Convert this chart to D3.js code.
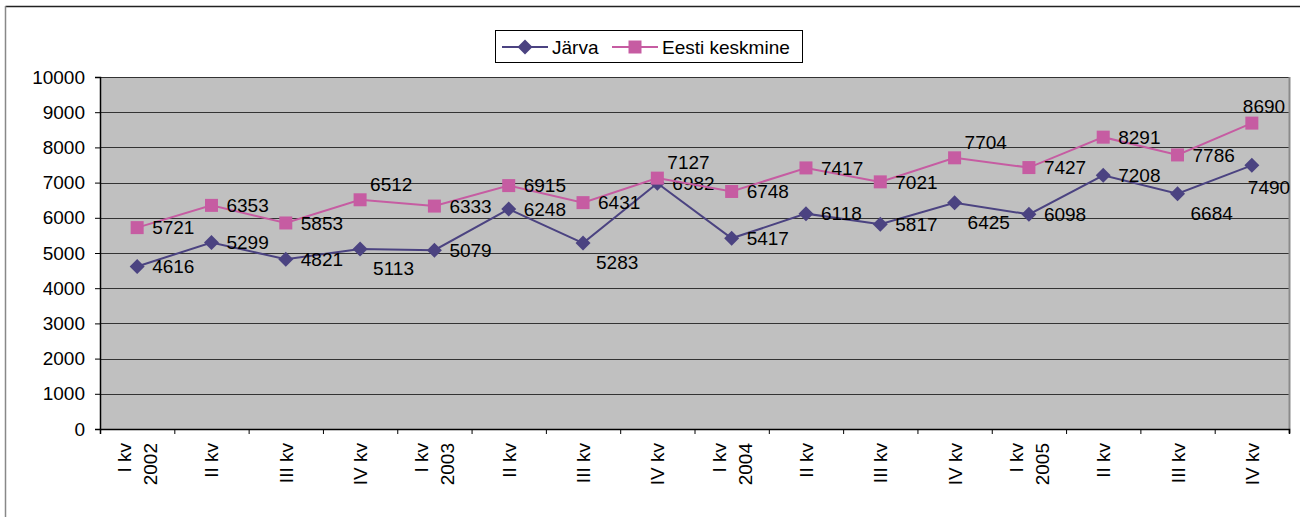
<!DOCTYPE html>
<html>
<head>
<meta charset="utf-8">
<script src="https://cdn.jsdelivr.net/npm/d3@7"></script>
<style>
  body { margin: 0; background: #fff; }
  text { font-family: "Liberation Sans", Arial, sans-serif; fill: #000; }
</style>
</head>
<body>
<div class="chart"></div>
<script>
var svgWidth = 1300;
var svgHeight = 517;

// quarters, each label may have two lines
var categories = [
  ["I kv", "2002"], ["II kv"], ["III kv"], ["IV kv"],
  ["I kv", "2003"], ["II kv"], ["III kv"], ["IV kv"],
  ["I kv", "2004"], ["II kv"], ["III kv"], ["IV kv"],
  ["I kv", "2005"], ["II kv"], ["III kv"], ["IV kv"]
];

var jarva = [4616, 5299, 4821, 5113, 5079, 6248, 5283, 6982, 5417, 6118, 5817, 6425, 6098, 7208, 6684, 7490];
var eesti = [5721, 6353, 5853, 6512, 6333, 6915, 6431, 7127, 6748, 7417, 7021, 7704, 7427, 8291, 7786, 8690];

var yTicks = [0, 1000, 2000, 3000, 4000, 5000, 6000, 7000, 8000, 9000, 10000];

var seriesNames = ["Järva", "Eesti keskmine"];

// where the value labels sit next to the point (r = right, b = below, a = above)
var jarvaLabelPos = ["r","r","r","b","r","r","b","r","r","r","r","b","r","r","b","bl"];
var eestiLabelPos = ["r","r","r","a","r","r","r","a","r","r","r","a","r","r","r","al"];

var labelOffset = {
  r:  [15, 0],
  b:  [13, 19],
  bl: [-4, 22],
  a:  [10, -16],
  al: [-9, -17]
};

var fontSize = "19px";

var margin = { top: 77, left: 100, right: 11, bottom: 88 };
var width = svgWidth - margin.left - margin.right;
var height = svgHeight - margin.top - margin.bottom;

var colJarva = "#4b4381";
var colEesti = "#c65ca2";

var svg = d3.select(".chart")
  .append("svg")
  .attr("width", svgWidth)
  .attr("height", svgHeight);

// outer chart frame
svg.append("line")
  .attr("x1", 5.5).attr("x2", svgWidth).attr("y1", 6.5).attr("y2", 6.5)
  .attr("stroke", "#222").attr("stroke-width", 1.5);
svg.append("line")
  .attr("x1", 5.5).attr("x2", 5.5).attr("y1", 6).attr("y2", svgHeight)
  .attr("stroke", "#888").attr("stroke-width", 1.5);

var chartGroup = svg.append("g")
  .attr("transform", `translate(${margin.left}, ${margin.top})`);

var xBand = d3.scaleBand()
  .domain(d3.range(categories.length))
  .range([0, width]);

var yLinearScale = d3.scaleLinear()
  .domain([0, 10000])
  .range([height, 0]);

var xPos = i => xBand(i) + xBand.bandwidth() / 2;

// plot area
chartGroup.append("rect")
  .attr("width", width)
  .attr("height", height)
  .attr("fill", "#c0c0c0");

// gridlines
chartGroup.selectAll(".grid")
  .data(yTicks.filter(d => d > 0))
  .enter()
  .append("line")
  .attr("x1", 0).attr("x2", width)
  .attr("y1", d => Math.round(yLinearScale(d)) + 0.5)
  .attr("y2", d => Math.round(yLinearScale(d)) + 0.5)
  .attr("stroke", "#333");

// right edge of plot
chartGroup.append("line")
  .attr("x1", width + 0.5).attr("x2", width + 0.5)
  .attr("y1", 0).attr("y2", height + 4)
  .attr("stroke", "#8a8a8a").attr("stroke-width", 2);

// y axis
var leftAxis = d3.axisLeft(yLinearScale)
  .tickValues(yTicks)
  .tickSize(5)
  .tickPadding(10)
  .tickFormat(d3.format("d"));

var yAxis = chartGroup.append("g").call(leftAxis);
yAxis.select(".domain").attr("stroke", "#000").attr("stroke-width", 1.5);
yAxis.selectAll("line").attr("stroke", "#000");
yAxis.selectAll("text")
  .style("font-size", fontSize)
  .style("font-family", "Liberation Sans, Arial, sans-serif");

// x axis with ticks at category boundaries
var xTickScale = d3.scaleLinear().domain([0, categories.length]).range([0, width]);
var bottomAxis = d3.axisBottom(xTickScale)
  .tickValues(d3.range(categories.length + 1))
  .tickSize(5)
  .tickFormat("");

var xAxis = chartGroup.append("g")
  .attr("transform", `translate(0, ${height})`)
  .call(bottomAxis);
xAxis.select(".domain").attr("stroke", "#000").attr("stroke-width", 1.5);
xAxis.selectAll("line").attr("stroke", "#000");

// rotated category labels
var catLabels = chartGroup.selectAll(".cat")
  .data(categories)
  .enter()
  .append("text")
  .attr("class", "cat")
  .attr("transform", (d, i) => `translate(${xPos(i)}, ${height + 14}) rotate(-90)`)
  .attr("text-anchor", "end")
  .style("font-size", fontSize);

catLabels.each(function(d) {
  var t = d3.select(this);
  var n = d.length;
  d.forEach(function(line, k) {
    t.append("tspan")
      .attr("x", 0)
      .attr("y", (k - (n - 1) / 2) * 26 + 7)
      .text(line);
  });
});

// lines and markers
var line = d3.line()
  .x((d, i) => xPos(i))
  .y(d => yLinearScale(d));

function drawSeries(values, color, marker, labelPos) {
  chartGroup.append("path")
    .datum(values)
    .attr("fill", "none")
    .attr("stroke", color)
    .attr("stroke-width", 2)
    .attr("d", line);

  chartGroup.selectAll(null)
    .data(values)
    .enter()
    .append("path")
    .attr("transform", (d, i) => `translate(${xPos(i)}, ${yLinearScale(d)})`)
    .attr("d", marker)
    .attr("fill", color);

  chartGroup.selectAll(null)
    .data(values)
    .enter()
    .append("text")
    .attr("x", (d, i) => xPos(i) + labelOffset[labelPos[i]][0])
    .attr("y", (d, i) => yLinearScale(d) + labelOffset[labelPos[i]][1])
    .attr("dy", "0.36em")
    .style("font-size", fontSize)
    .text(d => d);
}

var diamond = "M0,-7.5L7.5,0L0,7.5L-7.5,0Z";
var square = "M-6.5,-6.5H6.5V6.5H-6.5Z";

drawSeries(jarva, colJarva, diamond, jarvaLabelPos);
drawSeries(eesti, colEesti, square, eestiLabelPos);

// legend
var legend = svg.append("g").attr("transform", "translate(495, 30)");
legend.append("rect")
  .attr("x", 0.5).attr("y", 0.5)
  .attr("width", 307).attr("height", 32)
  .attr("fill", "#fff")
  .attr("stroke", "#000");

var legendItems = [
  { name: seriesNames[0], color: colJarva, marker: diamond, x: 7, tx: 57 },
  { name: seriesNames[1], color: colEesti, marker: square, x: 117, tx: 167 }
];

legendItems.forEach(function(it) {
  legend.append("line")
    .attr("x1", it.x).attr("x2", it.x + 46)
    .attr("y1", 17).attr("y2", 17)
    .attr("stroke", it.color).attr("stroke-width", 2);
  legend.append("path")
    .attr("transform", `translate(${it.x + 23}, 17)`)
    .attr("d", it.marker)
    .attr("fill", it.color);
  legend.append("text")
    .attr("x", it.tx).attr("y", 17)
    .attr("dy", "0.36em")
    .style("font-size", fontSize)
    .text(it.name);
});
</script>
</body>
</html>
